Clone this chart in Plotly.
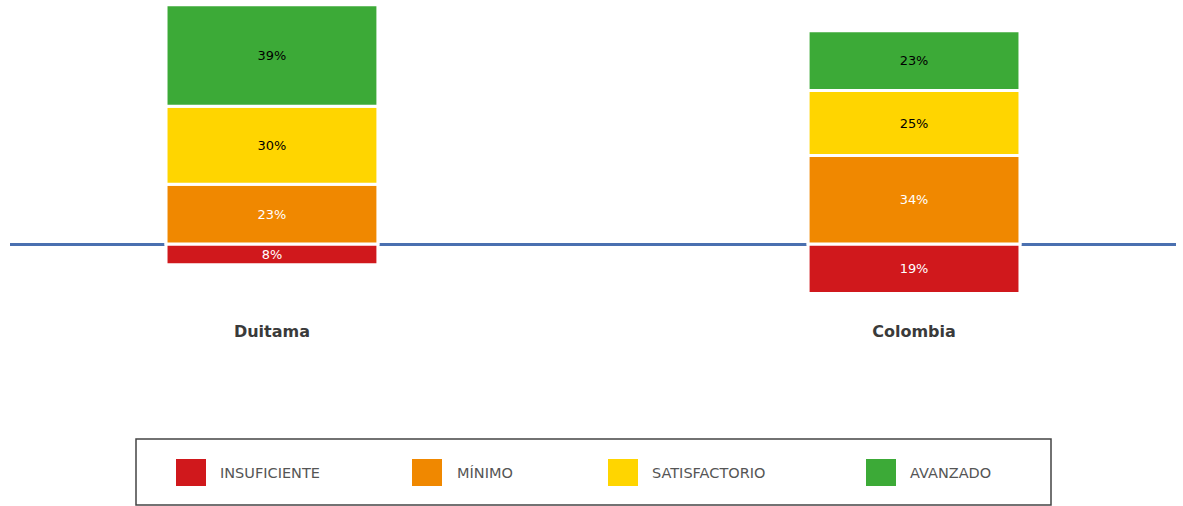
import plotly.graph_objects as go

# ---- data ----
categories = ["Duitama", "Colombia"]
levels = ["INSUFICIENTE", "MÍNIMO", "SATISFACTORIO", "AVANZADO"]
insuficiente = [8, 19]
minimo = [23, 34]
satisfactorio = [30, 25]
avanzado = [39, 23]
colors = ["#D0181C", "#F08800", "#FFD500", "#3CAA37"]
text_colors = ["white", "white", "black", "black"]

W, H = 1183, 506
ML, MR, MT, MB = 10, 7, 0, 188
PW, PH = W - ML - MR, H - MT - MB

def px_x(px):
    return (px - ML) / PW

def px_y(py):
    return (H - MB - py) / PH

fig = go.Figure()
series = [
    [-v for v in insuficiente],
    minimo,
    satisfactorio,
    avanzado,
]
raw = [insuficiente, minimo, satisfactorio, avanzado]
for i, name in enumerate(levels):
    fig.add_trace(go.Bar(
        x=categories, y=series[i], name=name,
        text=[f"{v}%" for v in raw[i]],
        textposition="inside", insidetextanchor="middle",
        textfont=dict(family="DejaVu Sans", size=14, color=text_colors[i]),
        marker=dict(color=colors[i], line=dict(color="white", width=3)),
        width=0.33, showlegend=False, hoverinfo="skip",
    ))

# scale: 2.6 px per percent, zero at y=244 px
scale = 2.6
zero_px = 244
ymax = (zero_px - MT) / scale
ymin = -(H - MB - zero_px) / scale

fig.update_layout(
    width=W, height=H,
    margin=dict(l=ML, r=MR, t=MT, b=MB),
    barmode="relative",
    plot_bgcolor="white", paper_bgcolor="white",
    xaxis=dict(range=[-0.408, 1.408], showgrid=False, showline=False,
               ticks="", tickfont=dict(family="DejaVu Sans", size=16, color="#3A3A3A"),
               ticklabelstandoff=2),
    yaxis=dict(range=[ymin, ymax], showgrid=False, showticklabels=False,
               zeroline=True, zerolinecolor="#4A70B0", zerolinewidth=2.5),
    uniformtext=dict(minsize=8, mode="show"),
)

fig.update_xaxes(tickvals=categories, ticktext=[f"<b>{c}</b>" for c in categories])

# ---- manual legend ----
shapes = [dict(type="rect", xref="paper", yref="paper",
               x0=px_x(136), x1=px_x(1051), y0=px_y(439), y1=px_y(505),
               line=dict(color="#444444", width=1.5), fillcolor="white", layer="below")]
sq_x = [176, 412, 608, 866]
tx_x = [218, 455, 650, 908]
annotations = []
for i, name in enumerate(levels):
    shapes.append(dict(type="rect", xref="paper", yref="paper",
                       x0=px_x(sq_x[i]), x1=px_x(sq_x[i] + 30),
                       y0=px_y(459), y1=px_y(486),
                       line=dict(width=0), fillcolor=colors[i]))
    annotations.append(dict(xref="paper", yref="paper", x=px_x(tx_x[i]), y=px_y(472.5),
                            xanchor="left", yanchor="middle", text=name, showarrow=False,
                            font=dict(family="DejaVu Sans", size=14.5, color="#555555")))
fig.update_layout(shapes=shapes, annotations=annotations)

fig.write_html("out.html", config={"displayModeBar": False},
               post_script="document.body.style.margin='0';")
